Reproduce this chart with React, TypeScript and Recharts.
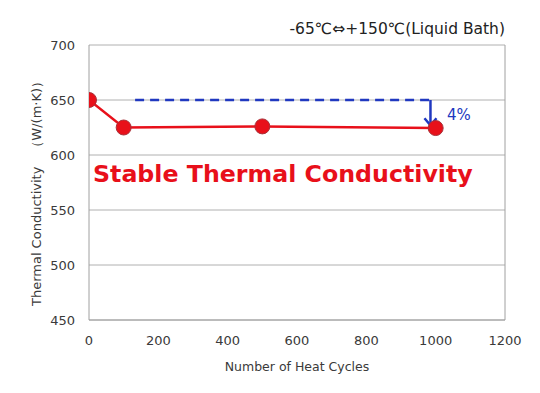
import React from 'react';
import {
  ComposedChart,
  Line,
  XAxis,
  YAxis,
  CartesianGrid,
  ReferenceLine,
} from 'recharts';

const cycles = [0, 100, 500, 1000];
const conductivity = [650, 625, 626, 624.5];
const xTicks = [0, 200, 400, 600, 800, 1000, 1200];
const yTicks = [450, 500, 550, 600, 650, 700];
const baselineX = [133, 985];
const baselineY = 650;
const arrowY = [650, 627];

const measured = cycles.map((c, i) => ({ x: c, y: conductivity[i] }));
const baseline = baselineX.map((x) => ({ x, y: baselineY }));
const arrow = arrowY.map((y) => ({ x: baselineX[1], y }));

const RED = '#e8101a';
const BLUE = '#2038c0';
const FONT = '"DejaVu Sans", Verdana, sans-serif';

const ArrowHead = (props: any) => {
  const { cx, cy, index } = props;
  if (index !== arrow.length - 1) return <g key={`a${index}`} />;
  return (
    <path
      key={`a${index}`}
      d={`M${cx - 6},${cy - 7} L${cx},${cy} L${cx + 6},${cy - 7}`}
      fill="none"
      stroke={BLUE}
      strokeWidth={2.5}
    />
  );
};

export default function App() {
  return (
    <div style={{ position: 'absolute', left: 0, top: 0, width: 540, height: 393, background: '#fff', fontFamily: FONT }}>
      <ComposedChart
        width={540}
        height={393}
        margin={{ top: 45, right: 35, left: 0, bottom: 0 }}
      >
        <CartesianGrid vertical={false} stroke="#b0b0b0" strokeWidth={1} />
        <XAxis
          type="number"
          dataKey="x"
          domain={[0, 1200]}
          ticks={xTicks}
          allowDataOverflow
          height={73}
          tickLine={false}
          axisLine={{ stroke: '#a0a0a0' }}
          tick={{ fontSize: 13, fill: '#3a3a3a', fontFamily: FONT }}
          tickMargin={10}
          label={{ value: 'Number of Heat Cycles', position: 'insideBottom', offset: 22, fontSize: 12.5, fill: '#3a3a3a', fontFamily: FONT }}
        />
        <YAxis
          type="number"
          domain={[450, 700]}
          ticks={yTicks}
          width={89}
          tickLine={false}
          axisLine={{ stroke: '#a0a0a0' }}
          tick={{ fontSize: 13, fill: '#3a3a3a', fontFamily: FONT }}
          tickMargin={8}
          label={{ value: 'Thermal Conductivity\u3000\uff08W/(m\u00b7K)\uff09', angle: -90, position: 'insideLeft', offset: 36, dy: 8, fontSize: 13, fill: '#3a3a3a', fontFamily: FONT, style: { textAnchor: 'middle' } }}
        />
        <ReferenceLine x={1200} stroke="#a0a0a0" />
        <Line
          data={baseline}
          dataKey="y"
          stroke={BLUE}
          strokeWidth={2.5}
          strokeDasharray="9 6"
          dot={false}
          isAnimationActive={false}
        />
        <Line
          data={arrow}
          dataKey="y"
          stroke={BLUE}
          strokeWidth={2.5}
          dot={ArrowHead}
          isAnimationActive={false}
        />
        <Line
          data={measured}
          dataKey="y"
          stroke={RED}
          strokeWidth={2.5}
          dot={{ r: 7.5, fill: RED, stroke: '#a8323a', strokeWidth: 1 }}
          isAnimationActive={false}
        />
      </ComposedChart>
      <div style={{ position: 'absolute', right: 35, top: 20, fontSize: 15.5, color: '#222', whiteSpace: 'nowrap' }}>
        -65℃⇔+150℃(Liquid Bath)
      </div>
      <div style={{ position: 'absolute', left: 447, top: 106, fontSize: 15, color: BLUE }}>4%</div>
      <div style={{ position: 'absolute', left: 93, top: 160, fontSize: 23.7, fontWeight: 'bold', color: RED, whiteSpace: 'nowrap' }}>
        Stable Thermal Conductivity
      </div>
    </div>
  );
}
